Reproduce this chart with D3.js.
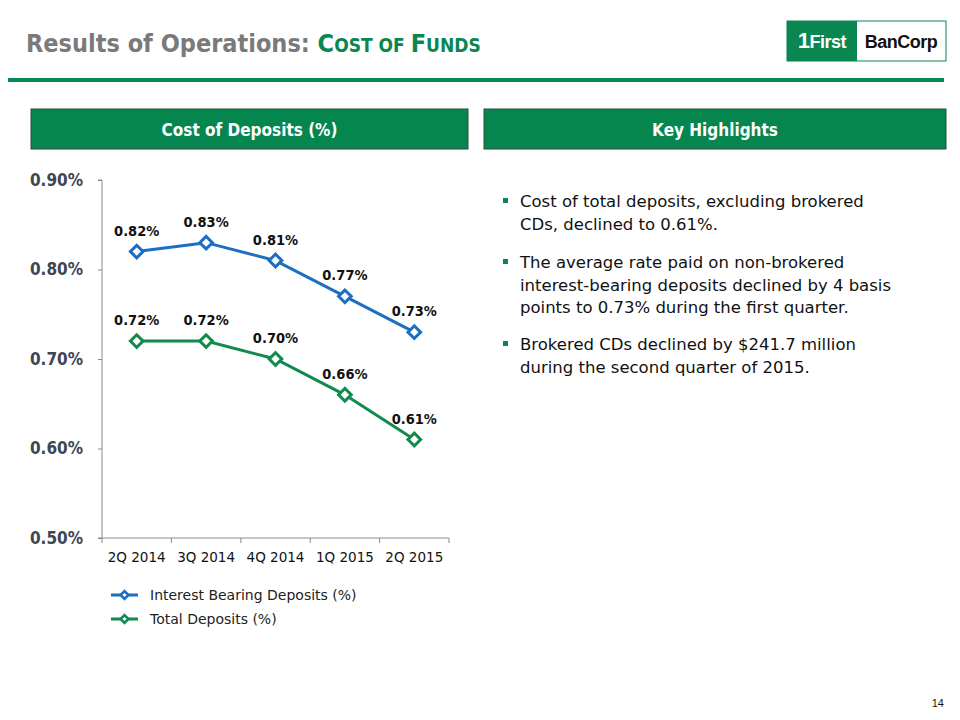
<!DOCTYPE html>
<html><head><meta charset="utf-8">
<script src="https://cdn.jsdelivr.net/npm/d3@7"></script>
<style>body{margin:0;background:#fff}svg{display:block}</style>
</head><body>
<svg id="c" width="960" height="720"></svg>
<script>
const categories = ["2Q 2014","3Q 2014","4Q 2014","1Q 2015","2Q 2015"];
const interestBearing = [0.82,0.83,0.81,0.77,0.73];
const totalDeposits = [0.72,0.72,0.70,0.66,0.61];
const yTicks = [0.50,0.60,0.70,0.80,0.90];
const seriesNames = ["Interest Bearing Deposits (%)","Total Deposits (%)"];
const seriesColors = ["#1b6ec2","#118a4e"];
const bullets = [
  ["Cost of total deposits, excluding brokered","CDs, declined to 0.61%."],
  ["The average rate paid on non-brokered","interest-bearing deposits declined by 4 basis","points to 0.73% during the first quarter."],
  ["Brokered CDs declined by $241.7 million","during the second quarter of 2015."]
];

const F = "'DejaVu Sans', Tahoma, sans-serif";
const FC = "'DejaVu Sans Condensed', 'DejaVu Sans', sans-serif";
const svg = d3.select("#c");
const green = "#0a8650";

// Title
const t = svg.append("text").attr("x",26).attr("y",52).attr("font-family",FC).attr("font-weight","bold");
t.append("tspan").attr("fill","#7a7a7a").attr("font-size",25).text("Results of Operations: ");
t.append("tspan").attr("fill",green).attr("font-size",25).text("C");
t.append("tspan").attr("fill",green).attr("font-size",19).text("OST OF ");
t.append("tspan").attr("fill",green).attr("font-size",25).text("F");
t.append("tspan").attr("fill",green).attr("font-size",19).text("UNDS");

// rule
svg.append("rect").attr("x",8).attr("y",78).attr("width",936).attr("height",4).attr("fill",green);

// logo
svg.append("rect").attr("x",787).attr("y",21).attr("width",159).attr("height",40).attr("fill","#fff").attr("stroke",green).attr("stroke-width",1);
svg.append("rect").attr("x",787).attr("y",21).attr("width",70).attr("height",40).attr("fill",green);
const l1 = svg.append("text").attr("x",822).attr("y",48).attr("text-anchor","middle").attr("font-family","'Liberation Sans', Arial, sans-serif").attr("font-weight","bold").attr("fill","#fff").attr("letter-spacing","-0.5");
l1.append("tspan").attr("font-size",22).text("1");
l1.append("tspan").attr("font-size",18).text("First");
svg.append("text").attr("x",901).attr("y",48).attr("text-anchor","middle").attr("font-family","'Liberation Sans', Arial, sans-serif").attr("font-weight","bold").attr("font-size",18).attr("fill","#111").attr("letter-spacing","-0.5").text("BanCorp");

// headers
[[31,437,"Cost of Deposits (%)"],[484,462,"Key Highlights"]].forEach(([x,w,s])=>{
  svg.append("rect").attr("x",x).attr("y",109).attr("width",w).attr("height",40).attr("fill","#06864f").attr("stroke","#2e4a3a").attr("stroke-width",1);
  svg.append("text").attr("x",x+w/2).attr("y",136).attr("text-anchor","middle").attr("font-family",FC).attr("font-weight","bold").attr("font-size",17).attr("fill","#fff").text(s);
});

// chart
const x = d3.scaleBand().domain(categories).range([102,449]);
const y = d3.scaleLinear().domain([0.5,0.9]).range([538,180]);
const g = svg.append("g");
const ya = g.append("g").attr("transform","translate(102,0)").call(d3.axisLeft(y).tickValues(yTicks).tickFormat(d=>d.toFixed(2)+"%").tickSize(4).tickPadding(15));
ya.select(".domain").attr("stroke","#8a8a8a").attr("d","M-4,180H0V538H-4");
ya.selectAll(".tick line").attr("stroke","#8a8a8a");
ya.selectAll("text").attr("font-family",FC).attr("font-weight","bold").attr("font-size",17).attr("fill","#3e4653");
const xa = g.append("g").attr("transform","translate(0,538)").call(d3.axisBottom(x).tickSize(0).tickPadding(14));
xa.select(".domain").attr("stroke","#8a8a8a").attr("d","M102,0H449");
xa.selectAll("text").attr("font-family",F).attr("font-size",13.5).attr("fill","#111");
const bTicks = [...categories.map(c=>x(c)), 449];
g.selectAll(".xt").data(bTicks).enter().append("line").attr("x1",d=>d).attr("x2",d=>d).attr("y1",538).attr("y2",543).attr("stroke","#8a8a8a");

[interestBearing,totalDeposits].forEach((vals,i)=>{
  const col = seriesColors[i];
  const line = d3.line().x((d,j)=>x(categories[j])+x.bandwidth()/2).y(d=>y(d));
  g.append("path").attr("d",line(vals)).attr("fill","none").attr("stroke",col).attr("stroke-width",3);
  vals.forEach((v,j)=>{
    const cx = x(categories[j])+x.bandwidth()/2, cy=y(v);
    g.append("path").attr("d",d3.symbol().type(d3.symbolSquare).size(80)()).attr("transform",`translate(${cx},${cy}) rotate(45)`).attr("fill","#fff").attr("stroke",col).attr("stroke-width",3);
    g.append("text").attr("x",cx).attr("y",cy-16).attr("text-anchor","middle").attr("font-family",FC).attr("font-weight","bold").attr("font-size",14.5).attr("fill","#111").text(v.toFixed(2)+"%");
  });
});

// legend
seriesNames.forEach((n,i)=>{
  const ly = 595 + i*24;
  svg.append("line").attr("x1",111).attr("x2",138).attr("y1",ly).attr("y2",ly).attr("stroke",seriesColors[i]).attr("stroke-width",3);
  svg.append("path").attr("d",d3.symbol().type(d3.symbolSquare).size(30)()).attr("transform",`translate(124.5,${ly}) rotate(45)`).attr("fill","#fff").attr("stroke",seriesColors[i]).attr("stroke-width",2.5);
  svg.append("text").attr("x",150).attr("y",ly+5).attr("font-family",F).attr("font-size",14).attr("fill","#222").text(n);
});

// bullets
const paraY = [201,262,344];
bullets.forEach((p,i)=>{
  svg.append("rect").attr("x",503).attr("y",paraY[i]-3).attr("width",5).attr("height",5).attr("fill",green);
  p.forEach((s,k)=>{
    svg.append("text").attr("x",520).attr("y",paraY[i]+k*22.5+6).attr("font-family",F).attr("font-size",16.5).attr("fill","#111").text(s);
  });
});

svg.append("text").attr("x",944).attr("y",707).attr("text-anchor","end").attr("font-family","'Liberation Sans', Arial, sans-serif").attr("font-size",11).attr("fill","#111").text("14");
</script>
</body></html>
